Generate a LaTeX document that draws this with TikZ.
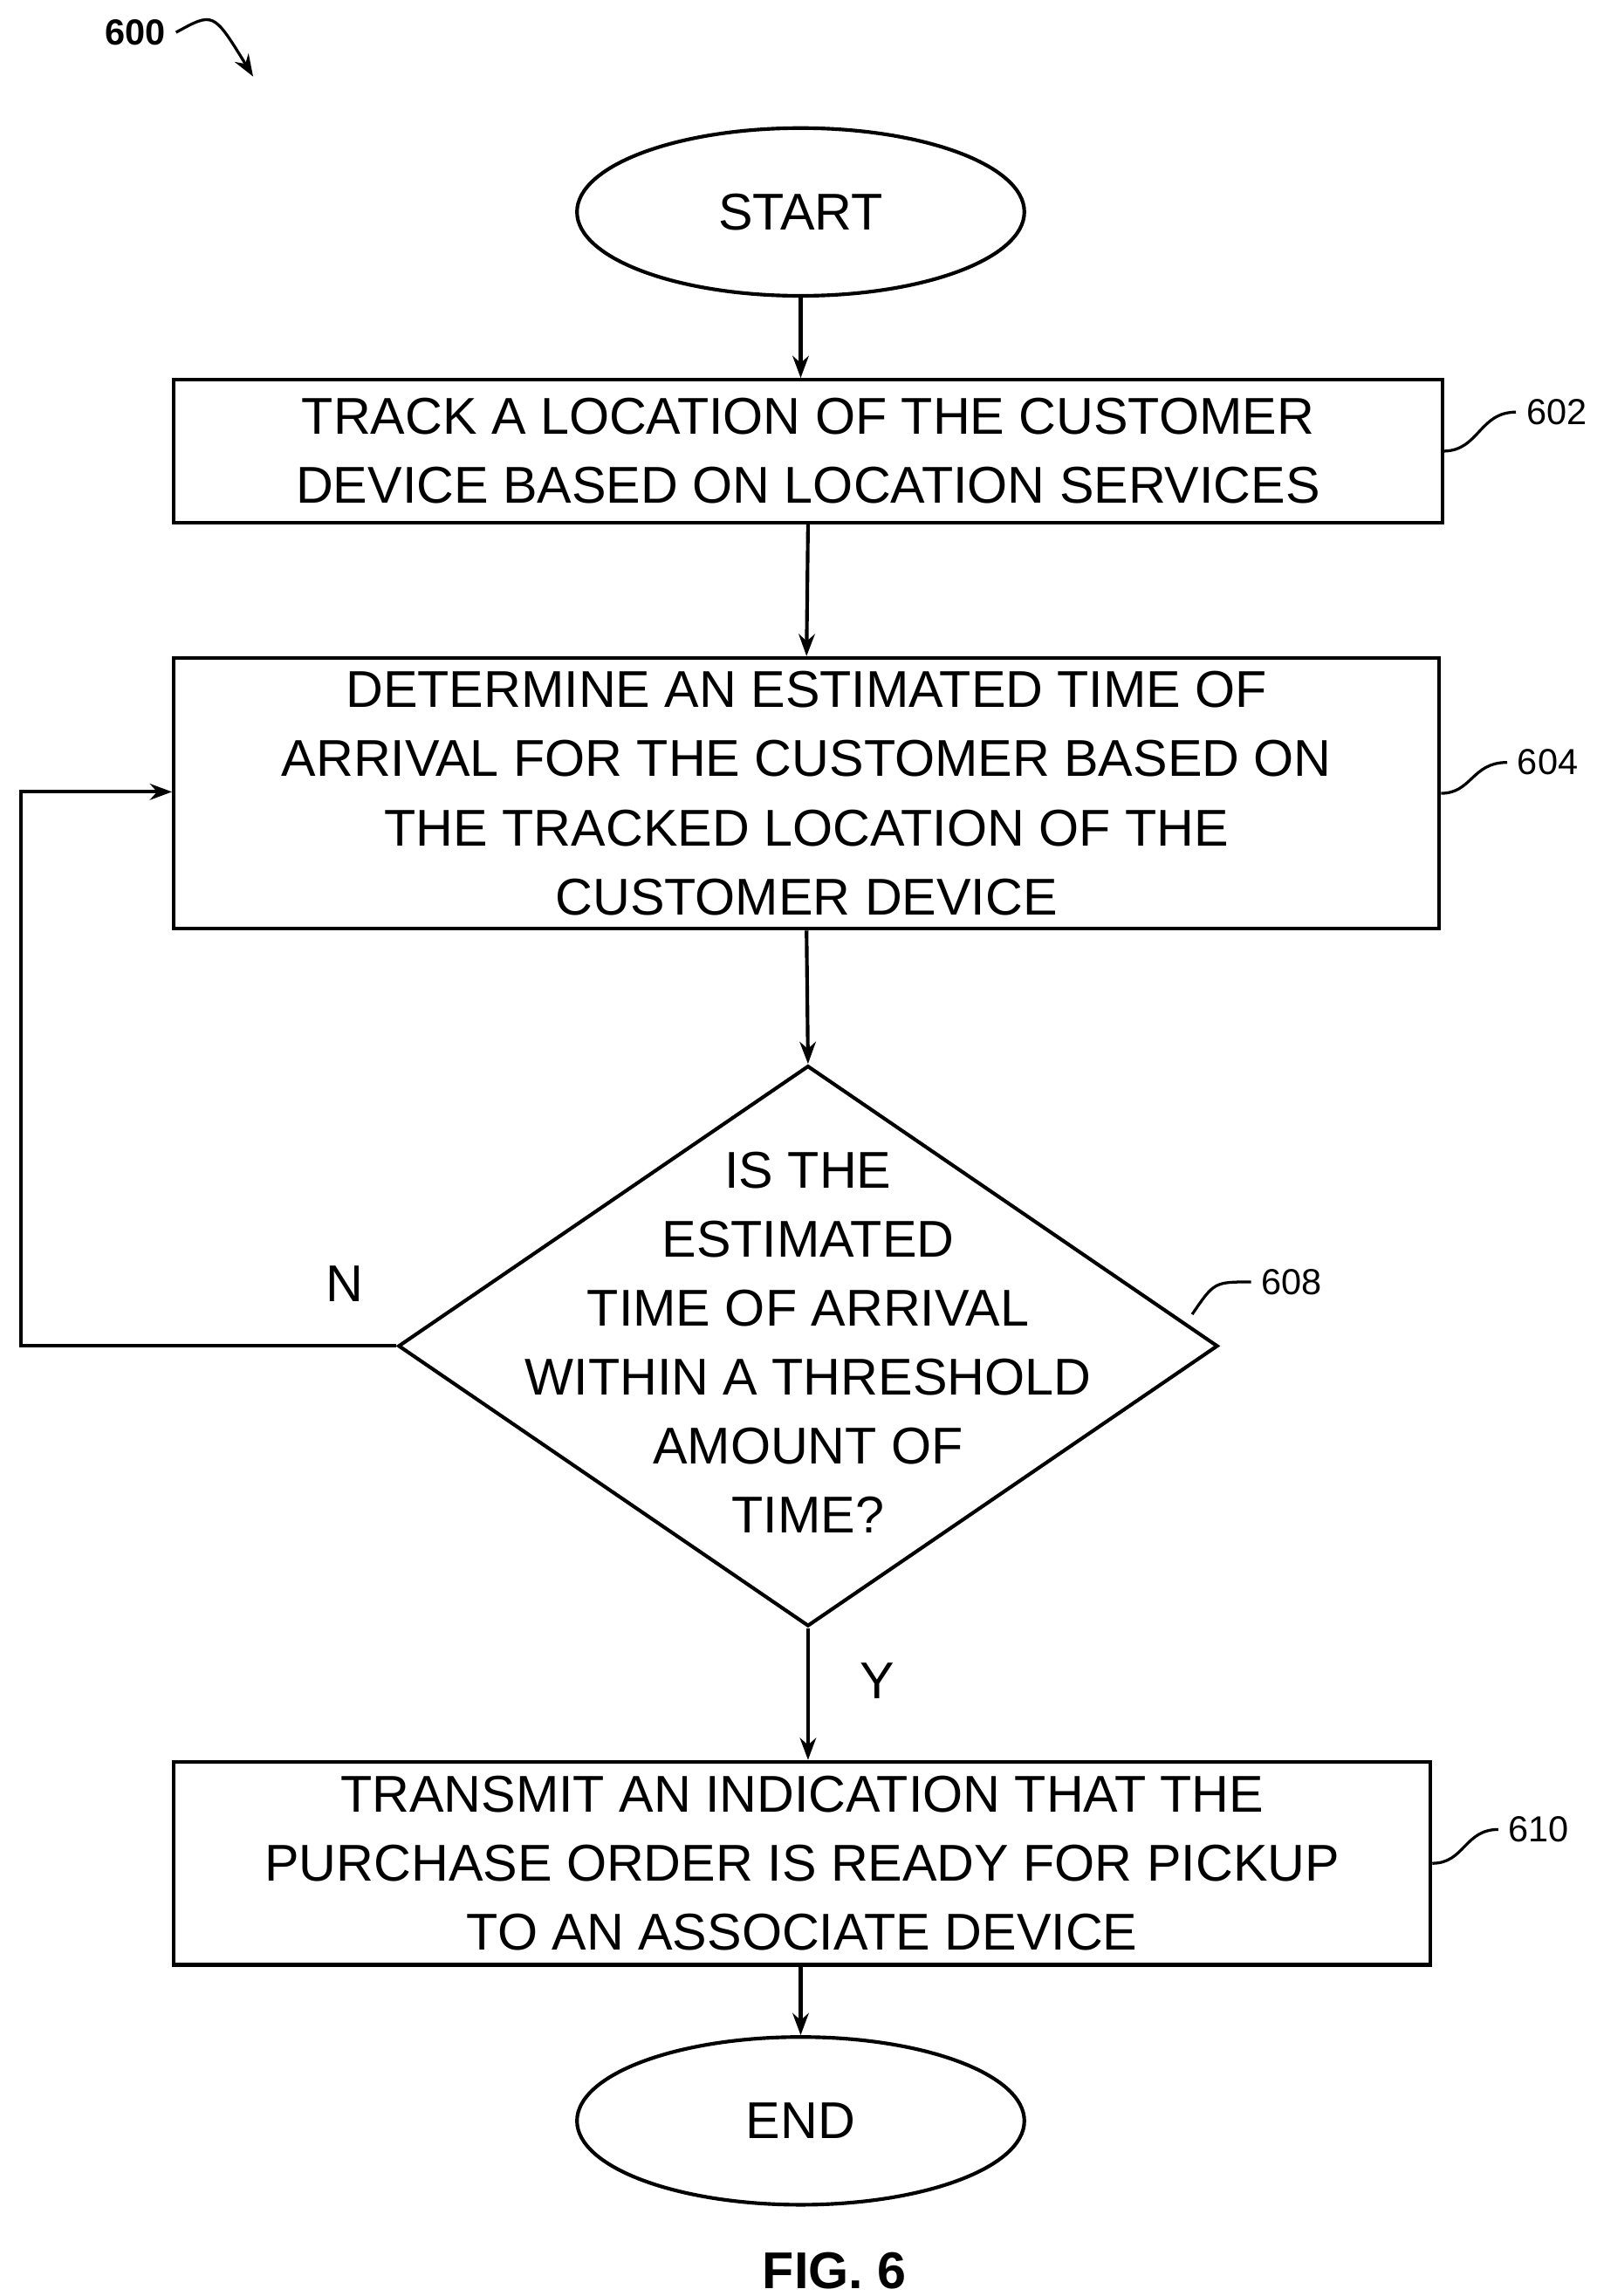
\documentclass[tikz,border=0pt]{standalone}
\usepackage{fontspec}
\setmainfont{Liberation Sans}
\usetikzlibrary{shapes.geometric,arrows.meta}
\begin{document}
\begin{tikzpicture}[x=0.02cm,y=-0.02cm,
  line width=1.4pt,
  every node/.style={font=\fontsize{20}{26.7}\selectfont},
  box/.style={draw,rectangle,inner sep=0pt,align=center},
  term/.style={draw,ellipse,minimum width=6.08cm,minimum height=2.28cm,inner sep=0pt},
  arr/.style={-{Stealth[length=0.3cm,width=0.22cm]}},
  ref/.style={font=\fontsize{14}{16}\selectfont},
  sq/.style={line width=1.1pt}]
\useasboundingbox (0,0) rectangle (1085,1560);
\node (l600) at (92,22) {\fontsize{14}{16}\selectfont\bfseries 600};
\coordinate (c600) at (172,52);
\draw[arr,line width=1.1pt] (l600.east) .. controls (145,8) .. (c600);
\node[term] (start) at (544,144) {START};
\node[box,minimum width=17.24cm,minimum height=1.94cm] (b602) at (549,306.5) {TRACK A LOCATION OF THE CUSTOMER\\DEVICE BASED ON LOCATION SERVICES};
\node[box,minimum width=17.2cm,minimum height=3.68cm] (b604) at (548,539) {DETERMINE AN ESTIMATED TIME OF\\ARRIVAL FOR THE CUSTOMER BASED ON\\THE TRACKED LOCATION OF THE\\CUSTOMER DEVICE};
\node[draw,diamond,minimum width=11.14cm,minimum height=7.62cm,inner sep=0pt] (d608) at (549,914.5) {};
\node[align=center] (t608) at (549,912) {IS THE\\ESTIMATED\\TIME OF ARRIVAL\\WITHIN A THRESHOLD\\AMOUNT OF\\TIME?};
\node[box,minimum width=17.08cm,minimum height=2.76cm] (b610) at (545,1266) {TRANSMIT AN INDICATION THAT THE\\PURCHASE ORDER IS READY FOR PICKUP\\TO AN ASSOCIATE DEVICE};
\node[term] (end) at (544,1441) {END};
\node (fig) at (567,1543) {\bfseries FIG. 6};
\node (n) at (234,872) {N};
\node (y) at (596,1142) {Y};
\node[ref,anchor=west] (r602) at (1030,280) {602};
\node[ref,anchor=west] (r604) at (1024,518) {604};
\node[ref,anchor=west] (r608) at (850,871) {608};
\node[ref,anchor=west] (r610) at (1018,1243) {610};
\draw[sq] (b602.east) .. controls (1005,306) and (1005,280) .. (r602.west);
\draw[sq] (b604.east) .. controls (1000,539) and (1000,518) .. (r604.west);
\draw[sq] (810,893) .. controls (825,871) .. (r608.west);
\draw[sq] (b610.east) .. controls (995,1266) and (995,1243) .. (r610.west);
\draw[arr] (start.south) -- (b602.north -| start.south);
\draw[arr] (b602.south) -- (b604.north);
\draw[arr] (b604.south) -- (d608.north);
\draw[arr] (d608.south) -- (b610.north -| d608.south);
\draw[arr] (b610.south -| end.north) -- (end.north);
\draw[arr] (d608.west) -- (14,914.5) -- (14,538) -- (b604.west |- 0,538);
\end{tikzpicture}
\end{document}
